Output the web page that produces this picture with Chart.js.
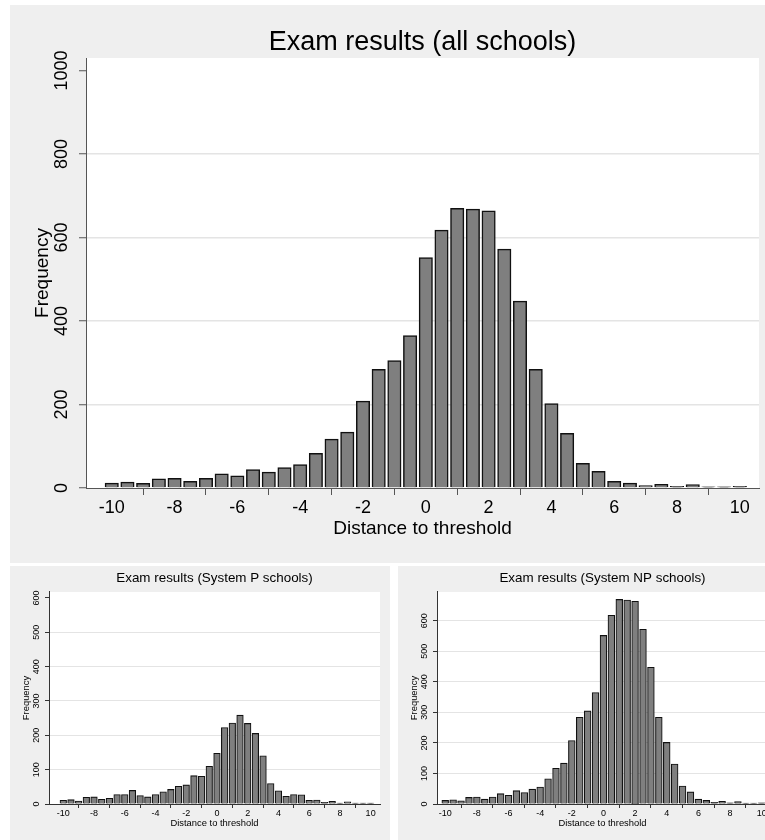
<!DOCTYPE html>
<html>
<head>
<meta charset="utf-8">
<script src="https://cdn.jsdelivr.net/npm/chart.js@4.4.1/dist/chart.umd.min.js"></script>
<style>
  body { margin: 0; width: 765px; height: 840px; overflow: hidden; background: #fff; position: relative; }
  canvas { position: absolute; background: #efefef; }
</style>
</head>
<body>
<canvas id="all" width="755" height="558" style="left:10px;top:5px"></canvas>
<canvas id="sysP" width="380" height="274" style="left:10px;top:566px"></canvas>
<canvas id="sysNP" width="380" height="274" style="left:398px;top:566px"></canvas>
<script>
// bin centres (distance to threshold)
var bins = [-10, -9.5, -9, -8.5, -8, -7.5, -7, -6.5, -6, -5.5, -5, -4.5, -4, -3.5, -3, -2.5, -2, -1.5, -1, -0.5,
            0, 0.5, 1, 1.5, 2, 2.5, 3, 3.5, 4, 4.5, 5, 5.5, 6, 6.5, 7, 7.5, 8, 8.5, 9, 9.5, 10];

var allSchools = [11, 13, 10, 21, 22, 15, 22, 33, 28, 43, 37, 48, 55, 82, 116, 133, 207, 283, 304, 364,
                  551, 617, 669, 667, 663, 571, 447, 283, 201, 130, 58, 39, 15, 11, 5, 8, 3, 7, 2, 2, 3];
var systemP = [10, 12, 8, 19, 20, 13, 16, 27, 27, 39, 24, 20, 27, 35, 42, 51, 55, 82, 80, 109,
               147, 222, 235, 258, 234, 205, 140, 59, 38, 22, 27, 26, 10, 11, 4, 7, 2, 6, 2, 2, 2];
var systemNP = [11, 13, 10, 21, 22, 15, 22, 33, 28, 43, 37, 48, 55, 82, 116, 133, 207, 283, 304, 364,
                551, 617, 669, 667, 663, 571, 447, 283, 201, 130, 58, 39, 15, 11, 5, 8, 3, 7, 2, 2, 3];

var xTicks = [-10, -8, -6, -4, -2, 0, 2, 4, 6, 8, 10];
var yTicksAll = [0, 200, 400, 600, 800, 1000];
var yTicksSmall = [0, 100, 200, 300, 400, 500, 600];

var FONT = "'Liberation Sans', Arial, Helvetica, sans-serif";

// white plot region on the grey graph background
var plotBg = {
  id: 'plotBg',
  beforeDraw: function(chart) {
    var a = chart.chartArea, ctx = chart.ctx;
    ctx.save();
    ctx.fillStyle = '#fff';
    ctx.fillRect(a.left, a.top, a.right - a.left, a.bottom - a.top);
    ctx.restore();
  }
};

function histogram(id, title, values, o) {
  var points = bins.map(function(b, i) { return { x: b, y: values[i] }; });
  return new Chart(document.getElementById(id), {
    type: 'bar',
    data: {
      datasets: [{
        data: points,
        backgroundColor: '#7f7f7f',
        borderColor: '#111',
        borderWidth: o.barBorder,
        inflateAmount: o.barBorder / 2,   // outline straddles the bar edge
        categoryPercentage: 1,
        barPercentage: 0.8
      }]
    },
    options: {
      responsive: false,
      animation: false,
      events: [],
      layout: { padding: { left: 0, right: o.padRight, top: 0, bottom: 0 } },
      plugins: {
        legend: { display: false },
        tooltip: { enabled: false },
        title: {
          display: true,
          text: title,
          fullSize: false,
          color: '#000',
          font: { family: FONT, size: o.titleSize, weight: 'normal' },
          padding: o.titlePad
        }
      },
      scales: {
        x: {
          type: 'linear',
          min: o.xMin,
          max: o.xMax,
          offset: false,
          afterBuildTicks: function(s) { s.ticks = xTicks.map(function(v) { return { value: v }; }); },
          afterFit: function(s) { s.height = o.xHeight; },
          grid: { drawOnChartArea: false, drawTicks: true, tickLength: o.tl, tickColor: o.axisColor, tickWidth: 1 },
          border: { color: o.axisColor, width: 1, z: 1 },
          ticks: {
            autoSkip: false, maxRotation: 0, color: '#000', padding: o.xTickPad,
            font: { family: FONT, size: o.tickSize },
            callback: function(v) { return String(v); }
          },
          title: {
            display: true, text: 'Distance to threshold', color: '#000',
            font: { family: FONT, size: o.axisSize },
            padding: { top: 0, bottom: o.xTitlePad }
          }
        },
        y: {
          min: 0,
          max: o.yMax,
          afterBuildTicks: function(s) { s.ticks = o.yTicks.map(function(v) { return { value: v }; }); },
          afterFit: function(s) { s.width = o.yWidth; },
          grid: {
            drawTicks: true, tickLength: o.tl, tickColor: o.axisColor, tickWidth: 1, lineWidth: o.gridWidth,
            color: function(c) {
              return (c.tick && o.noGrid.indexOf(c.tick.value) >= 0) ? 'rgba(0,0,0,0)' : '#e4e4e4';
            }
          },
          border: { color: o.axisColor, width: 1 },
          ticks: {
            autoSkip: false, minRotation: 90, maxRotation: 90, crossAlign: 'center',
            color: '#000', padding: o.yTickPad,
            font: { family: FONT, size: o.tickSize },
            callback: function(v) { return String(v); }
          },
          title: {
            display: true, text: 'Frequency', color: '#000',
            font: { family: FONT, size: o.axisSize },
            padding: { top: o.yTitlePad, bottom: 0 }
          }
        }
      }
    },
    plugins: [plotBg]
  });
}

histogram('all', 'Exam results (all schools)', allSchools, {
  xMin: -10.82, xMax: 10.61, yMax: 1030, yTicks: yTicksAll, noGrid: [0, 1000],
  padRight: 6, yWidth: 76, xHeight: 75, tl: 7,
  titleSize: 27, tickSize: 18, axisSize: 19,
  titlePad: { top: 21.3, bottom: -0.7 },
  xTickPad: 2.5, yTickPad: -3.5, xTitlePad: 22.8, yTitlePad: 21.5,
  gridWidth: 1.5, barBorder: 1.5, axisColor: '#555'
});

histogram('sysP', 'Exam results (System P schools)', systemP, {
  xMin: -10.93, xMax: 10.61, yMax: 617.5, yTicks: yTicksSmall, noGrid: [0, 600],
  padRight: 10, yWidth: 39, xHeight: 36, tl: 4,
  titleSize: 13.4, tickSize: 9, axisSize: 9.4,
  titlePad: { top: 4.1, bottom: 5.8 },
  xTickPad: 0.5, yTickPad: 0.8, xTitlePad: 10.6, yTitlePad: 10.5,
  gridWidth: 1, barBorder: 1.1, axisColor: '#333'
});

histogram('sysNP', 'Exam results (System NP schools)', systemNP, {
  xMin: -10.52, xMax: 10.4, yMax: 694, yTicks: yTicksSmall, noGrid: [0],
  padRight: 10, yWidth: 39, xHeight: 36, tl: 4,
  titleSize: 13.4, tickSize: 9, axisSize: 9.4,
  titlePad: { top: 4.1, bottom: 5.8 },
  xTickPad: 0.5, yTickPad: 0.8, xTitlePad: 10.6, yTitlePad: 10.5,
  gridWidth: 1, barBorder: 1.1, axisColor: '#333'
});
</script>
</body>
</html>
